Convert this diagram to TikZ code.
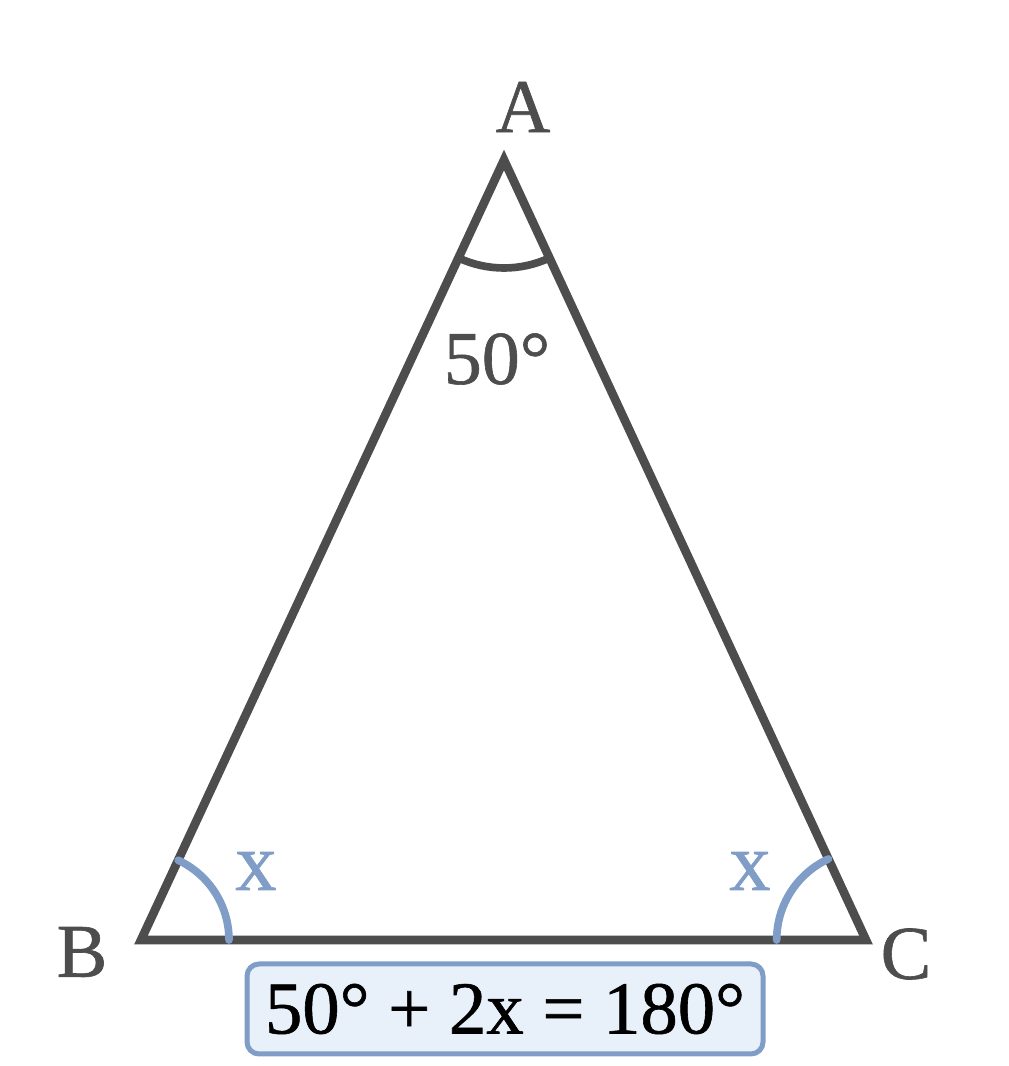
\documentclass[tikz,border=0pt]{standalone}
\usepackage{fontspec}
\setmainfont{Liberation Serif}[FakeBold=0.8]
\usetikzlibrary{calc}
\definecolor{tri}{HTML}{4D4D4D}
\definecolor{ang}{HTML}{7F9DC6}
\definecolor{boxfill}{HTML}{E8F0FA}
\begin{document}
\begin{tikzpicture}[x=0.75pt,y=0.75pt,
  lbl/.style={text=tri,font=\fontsize{57}{60}\selectfont,inner sep=0pt},
  xlbl/.style={text=ang,font=\fontsize{62}{64}\selectfont,inner sep=0pt},
  side/.style={draw=tri,line width=6.5pt},
  arcA/.style={draw=tri,line width=5.75pt},
  arcx/.style={draw=ang,line width=5.75pt,line cap=round},
  eqbox/.style={draw=ang,fill=boxfill,line width=3.75pt,rounded corners=9pt,
    minimum width=387pt,minimum height=67.5pt,inner sep=0pt,
    font=\fontsize{56}{58}\selectfont,text=black}]
\useasboundingbox (0,0) rectangle (1008,1066);
\coordinate (A) at (504,906);
\coordinate (B) at (141,126);
\coordinate (C) at (866,126);
\draw[side] (A) -- (B) -- (C) -- cycle;
\draw[arcA] ($(A)+(245.05:81pt)$) arc[start angle=245.05,end angle=294.9,radius=81pt];
\draw[arcx] ($(B)+(0:66pt)$) arc[start angle=0,end angle=65.05,radius=66pt];
\draw[arcx] ($(C)+(114.9:67pt)$) arc[start angle=114.9,end angle=180,radius=67pt];
\node[lbl] (labA) at (523,959) {A};
\node[lbl] (labB) at (82,114) {B};
\node[lbl] (labC) at (906,112) {C};
\node[lbl] (angA) at (497,707) {50°};
\node[xlbl] (xB) at (256,195) {x};
\node[xlbl] (xC) at (750,195) {x};
\node[eqbox] (eq) at (505,57) {50° + 2x = 180°};
\end{tikzpicture}
\end{document}
